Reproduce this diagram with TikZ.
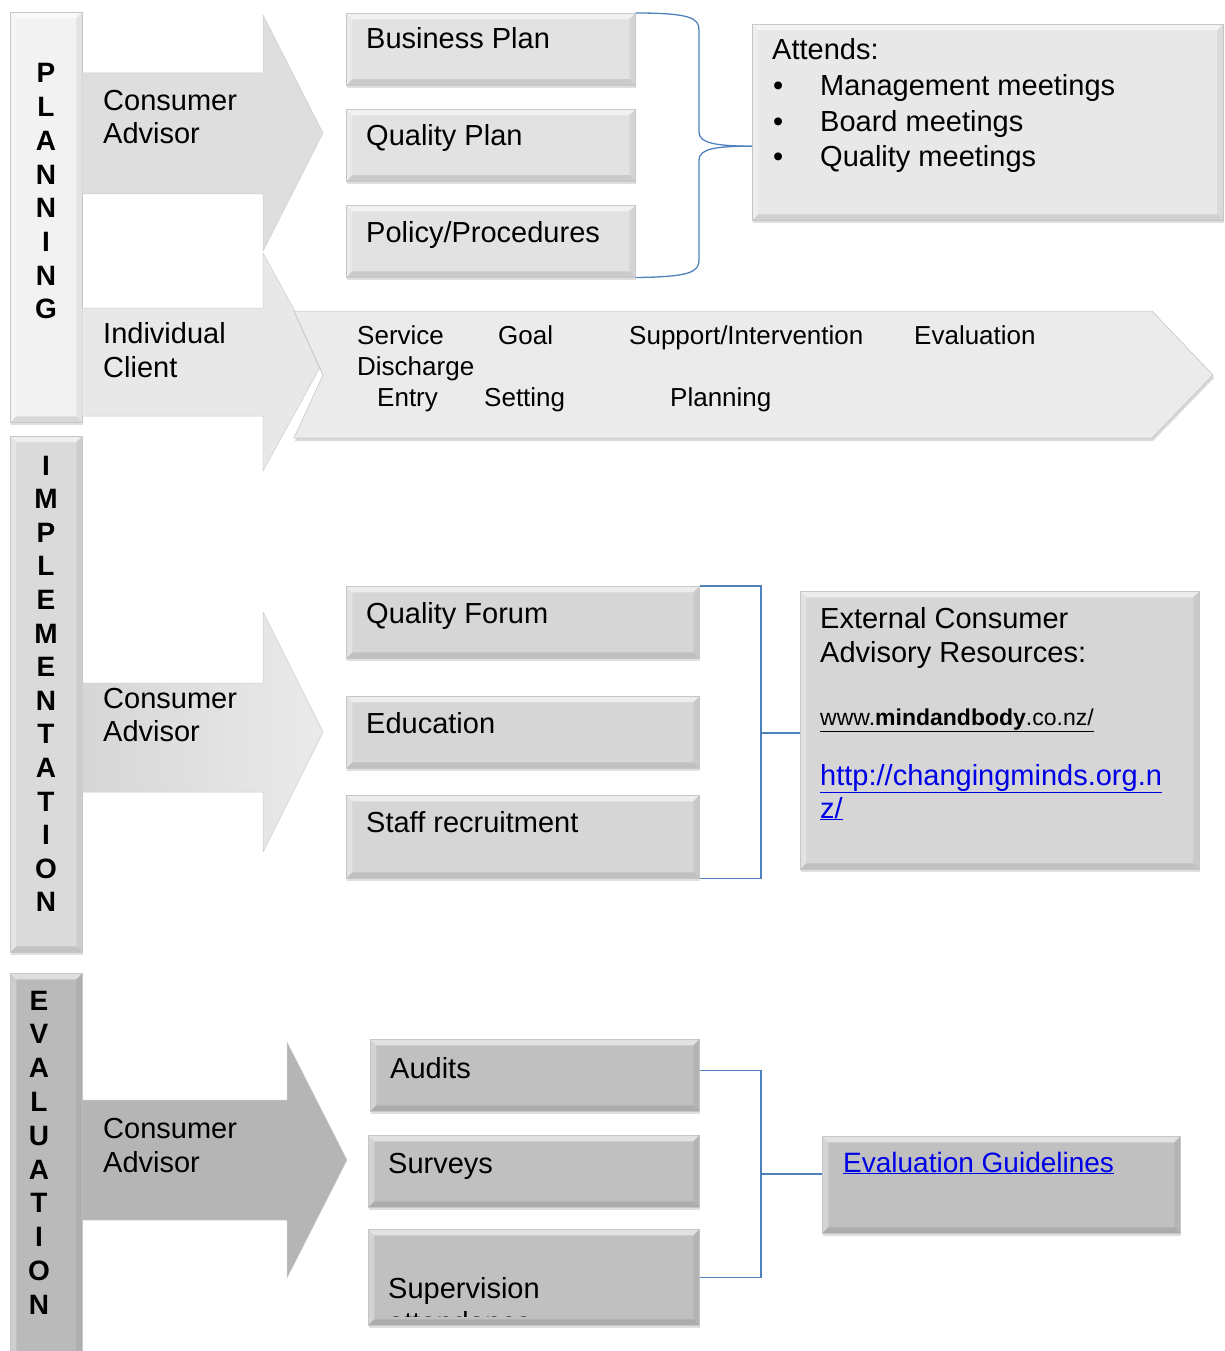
\documentclass[tikz,border=0pt]{standalone}
\usepackage{fontspec}
\setmainfont{Liberation Sans}
\usetikzlibrary{shadows,calc}
\tikzset{>=stealth}

\definecolor{brkblue}{RGB}{79,129,189}
\definecolor{linkblue}{RGB}{0,0,230}
\definecolor{planbar}{RGB}{242,242,242}
\definecolor{implbar}{RGB}{218,218,218}
\definecolor{evalbar}{RGB}{186,186,186}
\definecolor{planbox}{RGB}{226,226,226}
\definecolor{implbox}{RGB}{214,214,214}
\definecolor{evalbox}{RGB}{192,192,192}

\tikzset{
  bevel/.style={path picture={
    \path (path picture bounding box.north west) coordinate (ppnw)
          (path picture bounding box.south east) coordinate (ppse);
    \fill[white,opacity=.55] (ppnw) -- (ppnw -| ppse) -- ([shift={(-6pt,-6pt)}]ppnw -| ppse)
      -- ([shift={(6pt,-6pt)}]ppnw) -- cycle;
    \fill[white,opacity=.3] (ppnw) -- (ppnw |- ppse) -- ([shift={(6pt,6pt)}]ppnw |- ppse)
      -- ([shift={(6pt,-6pt)}]ppnw) -- cycle;
    \fill[black,opacity=.06] (ppse) -- (ppse |- ppnw) -- ([shift={(-6pt,-6pt)}]ppse |- ppnw)
      -- ([shift={(-6pt,6pt)}]ppse) -- cycle;
    \fill[black,opacity=.1] (ppse) -- (ppnw |- ppse) -- ([shift={(6pt,6pt)}]ppnw |- ppse)
      -- ([shift={(-6pt,6pt)}]ppse) -- cycle;
  }},
  bx/.style={draw=gray!45,line width=.5pt,bevel,anchor=north west,inner sep=0pt,
    drop shadow={shadow xshift=1pt,shadow yshift=-3pt,opacity=.25}},
  bar/.style={bx},
  pbox/.style={bx,fill=planbox},
  ibox/.style={bx,fill=implbox},
  ebox/.style={bx,fill=evalbox},
  txt/.style={anchor=base west,inner sep=0pt,font=\fontsize{29}{34}\selectfont},
  chw/.style={anchor=base west,inner sep=0pt,font=\fontsize{26}{31}\selectfont},
  lettr/.style={anchor=base,inner sep=0pt,font=\fontsize{28}{34}\selectfont\bfseries},
  brk/.style={draw=brkblue,line width=1.3pt},
  blk/.style={draw=gray!40,line width=.5pt},
}

\begin{document}
\begin{tikzpicture}[x=1pt,y=-1pt]
\useasboundingbox (0,0) rectangle (1225,1351);

% side bars
\node[bar,fill=planbar,minimum width=72,minimum height=410] (plan) at (10,12) {};
\node[bar,fill=implbar,minimum width=72,minimum height=516] (impl) at (10,436) {};
\node[bar,fill=evalbar,minimum width=72,minimum height=400] (eval) at (10,973) {};

\foreach \l [count=\i] in {P,L,A,N,N,I,N,G}
  \node[lettr] (pl\i) at (46,{83+33.7*(\i-1)}) {\l};
\foreach \l [count=\i] in {I,M,P,L,E,M,E,N,T,A,T,I,O,N}
  \node[lettr] (im\i) at (46,{475+33.6*(\i-1)}) {\l};
\foreach \l [count=\i] in {E,V,A,L,U,A,T,I,O,N}
  \node[lettr] (ev\i) at (39,{1010+33.8*(\i-1)}) {\l};

% block arrows
\fill[blk,fill=black!13] (82,73) -- (263,73) -- (263,15) -- (323,133) -- (263,251)
  -- (263,194) -- (82,194) -- cycle;
\node[txt] (pca1) at (103,111) {Consumer};
\node[txt] (pca2) at (103,144) {Advisor};

\fill[blk,fill=black!9] (82,308) -- (263,308) -- (263,253) -- (323,362) -- (263,471)
  -- (263,416) -- (82,416) -- cycle;
\node[txt] (ic1) at (103,343) {Individual};
\node[txt] (ic2) at (103,377) {Client};

\path[draw=gray!50,line width=.5pt,fill=black!8,
  drop shadow={shadow xshift=1pt,shadow yshift=-3pt,opacity=.3}]
  (294,311) -- (1152,311) -- (1213,375) -- (1152,438) -- (294,438) -- (323,375) -- cycle;
\node[chw] (cw1) at (357,344) {Service};
\node[chw] (cw2) at (498,344) {Goal};
\node[chw] (cw3) at (629,344) {Support/Intervention};
\node[chw] (cw4) at (914,344) {Evaluation};
\node[chw] (cw5) at (357,375) {Discharge};
\node[chw] (cw6) at (377,406) {Entry};
\node[chw] (cw7) at (484,406) {Setting};
\node[chw] (cw8) at (670,406) {Planning};

\shade[blk,left color=black!16,right color=black!8] (82,683) -- (263,683) -- (263,612)
  -- (323,732) -- (263,852) -- (263,792) -- (82,792) -- cycle;
\node[txt] (ica1) at (103,708) {Consumer};
\node[txt] (ica2) at (103,741) {Advisor};

\fill[blk,fill=black!29] (82,1100) -- (287,1100) -- (287,1042) -- (347,1160) -- (287,1278)
  -- (287,1220) -- (82,1220) -- cycle;
\node[txt] (eca1) at (103,1138) {Consumer};
\node[txt] (eca2) at (103,1172) {Advisor};

% planning boxes
\node[pbox,minimum width=289,minimum height=72] (bp) at (346,13) {};
\node[pbox,minimum width=289,minimum height=72] (qp) at (346,109) {};
\node[pbox,minimum width=289,minimum height=72] (pp) at (346,205) {};
\node[txt] at (366,49) {Business Plan};
\node[txt] at (366,146) {Quality Plan};
\node[txt] at (366,242) {Policy/Procedures};

\node[pbox,fill=black!9,minimum width=471,minimum height=196] (att) at (752,24) {};
\node[txt] (at0) at (772,60) {Attends:};
\foreach \t [count=\i] in {Management meetings,Board meetings,Quality meetings} {
  \node[txt] (bu\i) at (773,{96+35.5*(\i-1)}) {•};
  \node[txt] (it\i) at (820,{96+35.5*(\i-1)}) {\t};
}

\coordinate (pj) at ([yshift=-24pt]att.west);
\draw[brk] (bp.north east) .. controls (690,13) and (699,18) .. (699,30) -- (699,132)
  .. controls (699,143) and (715,146) .. (pj);
\draw[brk] (pp.south east) .. controls (690,277) and (699,272) .. (699,260) -- (699,160)
  .. controls (699,149) and (715,146) .. (pj);

% implementation boxes
\node[ibox,minimum width=353,minimum height=72] (qf) at (346,586) {};
\node[ibox,minimum width=353,minimum height=72] (ed) at (346,696) {};
\node[ibox,minimum width=353,minimum height=83] (sr) at (346,795) {};
\node[txt] at (366,623) {Quality Forum};
\node[txt] at (366,733) {Education};
\node[txt] at (366,832) {Staff recruitment};

\node[ibox,minimum width=399,minimum height=278] (ext) at (800,591) {};
\node[txt] (ex1) at (820,628) {External Consumer};
\node[txt] (ex2) at (820,662) {Advisory Resources:};
\node[txt,font=\fontsize{23}{28}\selectfont] (web1) at (820,725)
  {\underline{www.\textbf{mindandbody}.co.nz/}};
\node[txt,text=linkblue] (web2) at (820,785) {\underline{http://changingminds.org.n}};
\node[txt,text=linkblue] (web3) at (820,818) {\underline{z/}};

\coordinate (ij) at (761,733);
\draw[brk] (qf.north east) -| (ij) |- (sr.south east);
\draw[brk] (ij) -- (ij -| ext.west);

% evaluation boxes
\node[ebox,minimum width=329,minimum height=72] (au) at (370,1039) {};
\node[ebox,minimum width=331,minimum height=72] (su) at (368,1135) {};
\node[ebox,minimum width=331,minimum height=96] (sp) at (368,1229) {};
\node[txt] at (390,1078) {Audits};
\node[txt] at (388,1173) {Surveys};
\node[txt] at (388,1298) {Supervision};
\begin{scope}
  \clip (368,1229) rectangle (699,1316);
  \node[txt] at (388,1332) {attendance};
\end{scope}

\node[ebox,minimum width=358,minimum height=97] (eg) at (822,1136) {};
\node[txt,font=\fontsize{28}{34}\selectfont,text=linkblue] (egt) at (843,1172)
  {\underline{Evaluation Guidelines}};

\coordinate (ej) at (761,1174);
\draw[brk] ([yshift=5pt]au.east) -| (ej) |- (sp.east);
\draw[brk] (ej) -- (ej -| eg.west);
\end{tikzpicture}
\end{document}
